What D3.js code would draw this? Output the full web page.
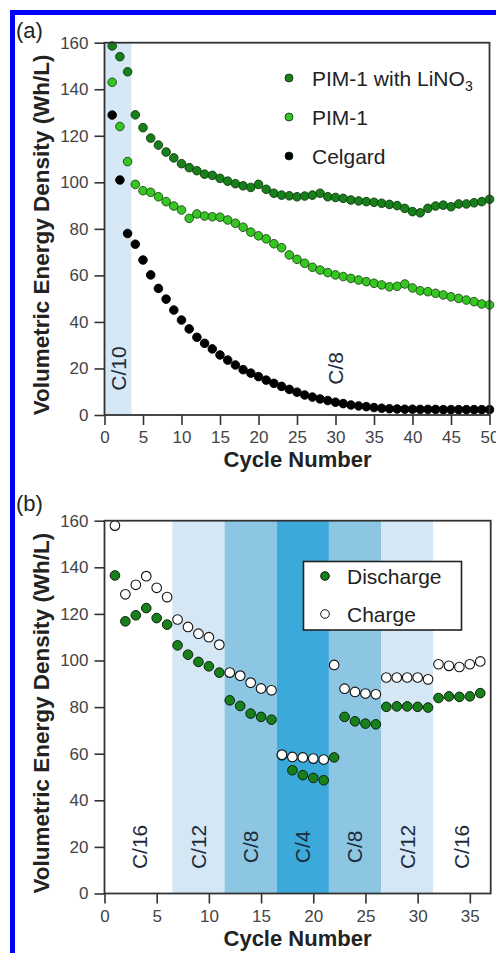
<!DOCTYPE html>
<html>
<head>
<meta charset="utf-8">
<script src="https://cdn.jsdelivr.net/npm/d3@7"></script>
<style>
  html, body { margin: 0; padding: 0; background: #fff; }
  svg { display: block; font-family: "Liberation Sans", Arial, sans-serif; }
</style>
</head>
<body>
<svg id="chart" width="496" height="953"></svg>
<script>
// ---- panel (a) data : volumetric energy density vs cycle ----
const cyclesA = d3.range(1, 51);
const pimLiNO3 = [158.6, 154, 147.5, 129, 123.5, 119, 116, 113, 110.5, 108,
  106.3, 105, 103.5, 103, 101.7, 100.5, 99.4, 98.5, 97.8, 99.1,
  97, 95.3, 94.5, 94.2, 93.8, 94.1, 94.5, 95.3, 93.8, 93.5,
  93.1, 92.4, 92, 91.7, 91.4, 91, 90.5, 90, 88.8, 87.4,
  86.9, 88.8, 89.8, 90.2, 89.5, 90.7, 90.7, 91.2, 91.7, 92.7];
const pim1 = [143, 124, 108.9, 99.1, 96.4, 95.7, 93.8, 91.7, 89.8, 88.1,
  84.5, 86.4, 85.5, 85.2, 85, 83.8, 82.4, 80.7, 78.6, 77,
  75.7, 73.6, 71.9, 68.8, 66.9, 65.2, 63.5, 62.3, 61.2, 60.2,
  59.5, 58.7, 58, 57.3, 56.6, 55.9, 55.1, 55.3, 56.3, 54.6,
  53.4, 53, 52.3, 51.6, 50.8, 50.1, 49.4, 48.7, 47.7, 47.3];
const celgard = [128.9, 101, 78, 73.4, 66.6, 60.2, 54.4, 49.8, 45.1, 40.8,
  37, 33.4, 30.8, 28.4, 25.8, 23.6, 21.5, 19.5, 18, 16.5,
  15, 13.6, 12.3, 11, 9.8, 8.6, 7.7, 6.9, 6.2, 5.5,
  4.9, 4.3, 3.9, 3.6, 3.2, 2.9, 2.7, 2.6, 2.5, 2.5,
  2.4, 2.4, 2.4, 2.3, 2.3, 2.3, 2.3, 2.3, 2.3, 2.3];
const seriesNamesA = ["PIM-1 with LiNO", "PIM-1", "Celgard"];
const ratesA = [{ label: "C/10", from: 0, to: 3.5, at: 1.9 }, { label: "C/8", from: 3.5, to: 50, at: 30 }];

// ---- panel (b) data : rate capability ----
const cyclesB = d3.range(1, 37);
const discharge = [136.5, 116.8, 119.4, 122.5, 118.2, 115.4, 106.5, 102.5, 99.4, 97.5,
  94.8, 82.9, 80.5, 77.2, 75.8, 74.6, 59.3, 52.9, 50.8, 49.6,
  48.6, 58.4, 75.8, 73.9, 72.9, 72.6, 80.1, 80.3, 80.3, 80.1,
  79.8, 83.9, 84.6, 84.4, 84.6, 86];
const charge = [157.9, 128.4, 132.5, 136.2, 131.2, 127.2, 117.6, 114.4, 111.5, 110,
  106.8, 94.8, 93.5, 90.5, 88, 87.2, 59.6, 58.6, 58.4, 57.9,
  57.5, 98.1, 87.9, 86.5, 85.8, 85.5, 92.7, 92.7, 92.7, 92.7,
  91.9, 98.4, 97.7, 97.2, 98.4, 99.6];
const bandLabels = ["C/16", "C/12", "C/8", "C/4", "C/8", "C/12", "C/16"];
const bandEdges = [0, 6.5, 11.5, 16.5, 21.5, 26.5, 31.5, 37];
const bandColors = ["#ffffff", "#d5e7f5", "#8dc6e2", "#3ba9d9", "#8dc6e2", "#d5e7f5", "#ffffff"];

const yTicks = [0, 20, 40, 60, 80, 100, 120, 140, 160];
const xTicksA = [0, 5, 10, 15, 20, 25, 30, 35, 40, 45, 50];
const xTicksB = [0, 5, 10, 15, 20, 25, 30, 35];

const darkGreen = "#17801a", lightGreen = "#35c622", axisColor = "#333";

var svg = d3.select("#chart");

// blue frame around the figure (cropped on the right and bottom)
svg.append("rect")
  .attr("x", 12.5).attr("y", 12.5).attr("width", 600).attr("height", 1000)
  .attr("fill", "none").attr("stroke", "#0000ff").attr("stroke-width", 5);

function drawAxes(g, x, y, xTicks) {
  const [x0, x1] = x.range();
  const [y0, y1] = y.range();
  g.append("g")
    .attr("transform", `translate(${x0},0)`)
    .call(d3.axisLeft(y).tickValues(yTicks).tickSize(10).tickSizeOuter(0).tickPadding(6));
  g.append("g")
    .attr("transform", `translate(0,${y0})`)
    .call(d3.axisBottom(x).tickValues(xTicks).tickSize(10).tickSizeOuter(0).tickPadding(6));
  g.selectAll(".domain").remove();
  g.selectAll(".tick line").attr("stroke", axisColor).attr("stroke-width", 1.6);
  g.selectAll(".tick text").attr("fill", "#444").style("font-size", "17px")
    .style("font-family", "'Liberation Sans', Arial, sans-serif");
  g.append("rect")
    .attr("x", x0).attr("y", y1).attr("width", x1 - x0).attr("height", y0 - y1)
    .attr("fill", "none").attr("stroke", axisColor).attr("stroke-width", 1.8);
  g.append("text")
    .attr("x", 297.5).attr("y", y0 + 52)
    .attr("text-anchor", "middle")
    .style("font-size", "22px").style("font-weight", "bold").attr("fill", "#222")
    .text("Cycle Number");
  g.append("text")
    .attr("transform", `translate(49,${(y0 + y1) / 2 + 6}) rotate(-90)`)
    .attr("text-anchor", "middle")
    .style("font-size", "22.5px").style("font-weight", "bold").attr("fill", "#222")
    .text("Volumetric Energy Density (Wh/L)");
}

function bandText(g, x, y, label, at) {
  g.append("text")
    .attr("transform", `translate(${x(at)},${y(20)}) rotate(-90)`)
    .attr("text-anchor", "middle").attr("dy", "0.35em")
    .style("font-size", "21px").attr("fill", "#1d2c3c")
    .text(label);
}

// ================= panel (a) =================
const gA = svg.append("g");
const xA = d3.scaleLinear().domain([0, 50]).range([104.5, 489.5]);
const yA = d3.scaleLinear().domain([0, 160]).range([415, 42.7]);

gA.append("rect")
  .attr("x", xA(ratesA[0].from)).attr("y", yA(160))
  .attr("width", xA(ratesA[0].to) - xA(ratesA[0].from)).attr("height", yA(0) - yA(160))
  .attr("fill", "#d6e7f5");
ratesA.forEach(r => bandText(gA, xA, yA, r.label, r.at));

const seriesA = [
  { values: celgard, fill: "#000", stroke: "#000" },
  { values: pim1, fill: lightGreen, stroke: "#1a4a10" },
  { values: pimLiNO3, fill: darkGreen, stroke: "#0d3a0d" }
];
seriesA.forEach(s => {
  gA.append("g").selectAll("circle")
    .data(cyclesA.map((c, i) => [c, s.values[i]]))
    .join("circle")
      .attr("cx", d => xA(d[0]))
      .attr("cy", d => yA(d[1]))
      .attr("r", 4.3)
      .attr("fill", s.fill)
      .attr("stroke", s.stroke)
      .attr("stroke-width", 0.9);
});

drawAxes(gA, xA, yA, xTicksA);

gA.append("text").attr("x", 16).attr("y", 38)
  .style("font-size", "22px").attr("fill", "#222").text("(a)");

// legend (a)
const legA = gA.append("g");
const legFills = [darkGreen, lightGreen, "#000"];
seriesNamesA.forEach((name, i) => {
  const yy = 78 + i * 39;
  legA.append("circle").attr("cx", 289).attr("cy", yy).attr("r", 4)
    .attr("fill", legFills[i]).attr("stroke", "#0d2a0d").attr("stroke-width", 0.8);
  const t = legA.append("text").attr("x", 312).attr("y", yy).attr("dy", "0.36em")
    .style("font-size", "21px").attr("fill", "#222").text(name);
  if (i === 0) {
    t.append("tspan").attr("dy", "5").style("font-size", "14px").text("3");
  }
});

// ================= panel (b) =================
const gB = svg.append("g");
const xB = d3.scaleLinear().domain([0, 37]).range([104.5, 490.7]);
const yB = d3.scaleLinear().domain([0, 160]).range([893.5, 520.7]);

gB.append("g").selectAll("rect")
  .data(bandLabels.map((l, i) => ({ label: l, from: bandEdges[i], to: bandEdges[i + 1], color: bandColors[i] })))
  .join("rect")
    .attr("x", d => xB(d.from)).attr("y", yB(160))
    .attr("width", d => xB(d.to) - xB(d.from)).attr("height", yB(0) - yB(160))
    .attr("fill", d => d.color);
bandLabels.forEach((l, i) => {
  const mid = (bandEdges[i] + bandEdges[i + 1]) / 2;
  bandText(gB, xB, yB, l, i === 0 ? 3.4 : mid);
});

gB.append("g").selectAll("circle")
  .data(cyclesB.map((c, i) => [c, discharge[i]]))
  .join("circle")
    .attr("cx", d => xB(d[0])).attr("cy", d => yB(d[1])).attr("r", 4.8)
    .attr("fill", darkGreen).attr("stroke", "#0b1f0b").attr("stroke-width", 1);
gB.append("g").selectAll("circle")
  .data(cyclesB.map((c, i) => [c, charge[i]]))
  .join("circle")
    .attr("cx", d => xB(d[0])).attr("cy", d => yB(d[1])).attr("r", 4.8)
    .attr("fill", "#fff").attr("stroke", "#111").attr("stroke-width", 1.1);

drawAxes(gB, xB, yB, xTicksB);

gB.append("text").attr("x", 16).attr("y", 511)
  .style("font-size", "22px").attr("fill", "#222").text("(b)");

// legend (b)
const legB = gB.append("g");
legB.append("rect").attr("x", 303.5).attr("y", 561.5).attr("width", 158).attr("height", 68.5)
  .attr("fill", "#fff").attr("stroke", "#222").attr("stroke-width", 1.6);
[["Discharge", darkGreen], ["Charge", "#fff"]].forEach((it, i) => {
  const yy = 576 + i * 38;
  legB.append("circle").attr("cx", 325).attr("cy", yy).attr("r", 4.3)
    .attr("fill", it[1]).attr("stroke", "#111").attr("stroke-width", 1);
  legB.append("text").attr("x", 347).attr("y", yy).attr("dy", "0.36em")
    .style("font-size", "21px").attr("fill", "#222").text(it[0]);
});
</script>
</body>
</html>
